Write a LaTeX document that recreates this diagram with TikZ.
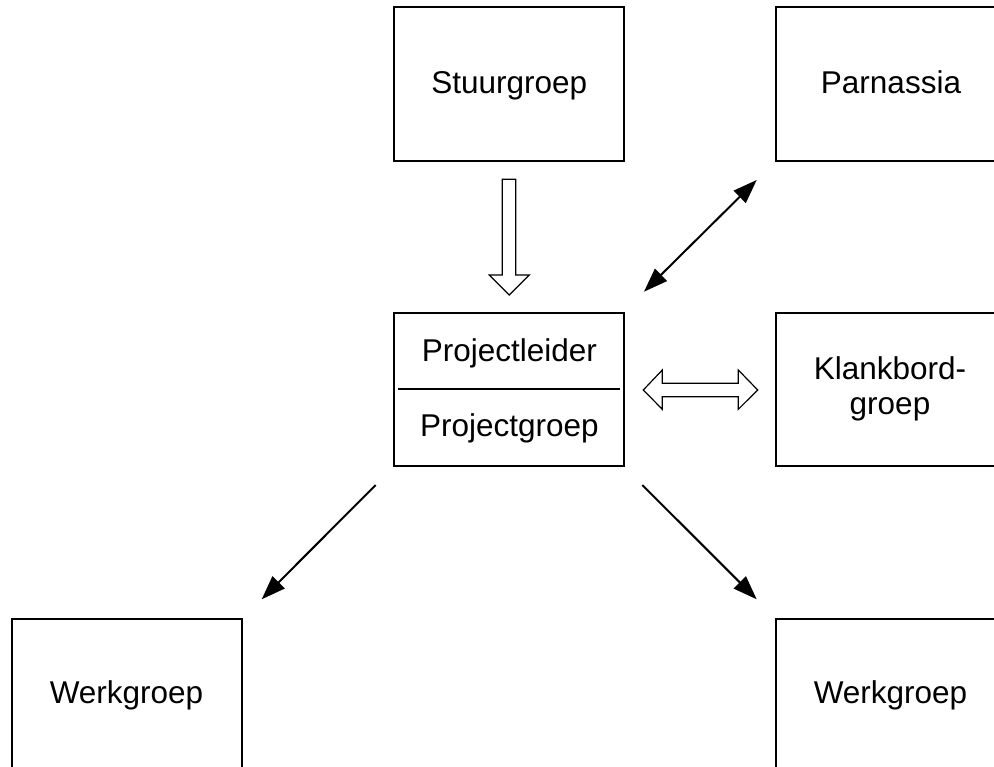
\documentclass[tikz,border=0pt]{standalone}
\usepackage{fontspec}
\setmainfont{Liberation Sans}
\usetikzlibrary{arrows.meta}
\begin{document}
\begin{tikzpicture}[x=1pt,y=-1pt,
  box/.style={draw=black,line width=2pt,minimum width=230pt,minimum height=153.4pt,inner sep=0pt},
  lbl/.style={anchor=base,inner sep=0pt,font=\fontsize{31.5}{35}\selectfont},
  solidarrow/.style={line width=2pt,-{Triangle[length=24pt,width=17pt]}},
  solidboth/.style={line width=2pt,{Triangle[length=24pt,width=17pt]}-{Triangle[length=24pt,width=17pt]}},
  hollow/.style={draw=black,fill=white,line width=1.2pt,line join=miter}
]
\useasboundingbox (0,0) rectangle (994,767);
\clip (0,0) rectangle (994,767);
% boxes
\node[box] (stuur) at (509.3,84) {};
\node[box] (parn) at (891,84) {};
\node[box] (proj) at (509.3,389.5) {};
\node[box] (klank) at (891,389.5) {};
\node[box] (werkL) at (127,695.7) {};
\node[box] (werkR) at (891,695.7) {};
% divider
\draw[line width=2pt] ([xshift=5pt]proj.west) -- ([xshift=-5pt]proj.east);
% labels
\node[lbl] (tstuur) at (509.3,93.3) {Stuurgroep};
\node[lbl] (tparn) at (891,93.3) {Parnassia};
\node[lbl] (tpl) at (509.3,361.7) {Projectleider};
\node[lbl] (tpg) at (509.3,436.7) {Projectgroep};
\node[lbl] (tk1) at (890,380) {Klankbord-};
\node[lbl] (tk2) at (890,415) {groep};
\node[lbl] (twl) at (126.5,703.3) {Werkgroep};
\node[lbl] (twr) at (890.5,703.3) {Werkgroep};
% hollow down arrow
\draw[hollow] (502.3,179.3) -- (515.7,179.3) -- (515.7,275) -- (529.3,275) -- (509.3,295)
  -- (489.3,275) -- (502.3,275) -- cycle;
% hollow double arrow
\draw[hollow] (643.3,390) -- (662.3,370) -- (662.3,383.3) -- (738.3,383.3) -- (738.3,370)
  -- (757.7,390) -- (738.3,409.3) -- (738.3,396.7) -- (662.3,396.7) -- (662.3,409.3) -- cycle;
% connectors
\coordinate (d1a) at (644,291.7);
\coordinate (d1b) at (756.7,180);
\draw[solidboth] (d1a) -- (d1b);
\coordinate (d2a) at (375.7,485);
\coordinate (d2b) at (261.7,599.3);
\draw[solidarrow] (d2a) -- (d2b);
\coordinate (d3a) at (642.3,485);
\coordinate (d3b) at (756.7,599.3);
\draw[solidarrow] (d3a) -- (d3b);
\end{tikzpicture}
\end{document}
